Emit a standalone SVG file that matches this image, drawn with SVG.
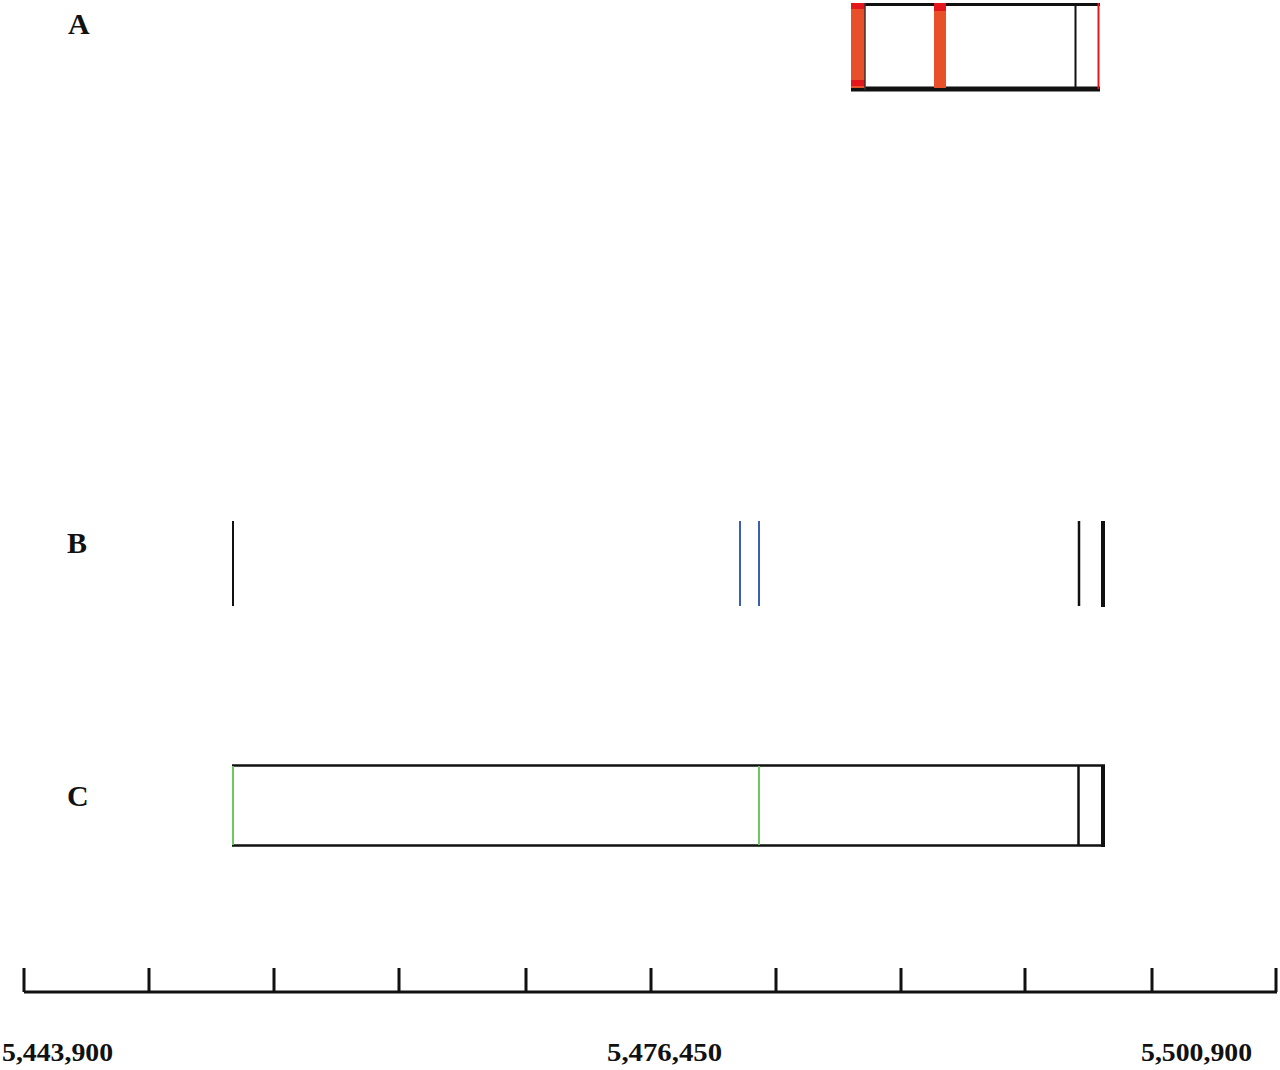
<svg xmlns="http://www.w3.org/2000/svg" width="1280" height="1070" viewBox="0 0 1280 1070">
<style>
.lbl{font-family:"Liberation Serif","Times New Roman",serif;font-size:30px;font-weight:bold;fill:#111}
.num{font-family:"Liberation Serif","Times New Roman",serif;font-size:25px;font-weight:bold;fill:#111}
.ax{stroke:#111;stroke-width:3;fill:none}
</style>
<rect width="1280" height="1070" fill="#fff"/>
<g id="label-A"><text class="lbl" x="68" y="34">A</text></g>
<g id="label-B"><text class="lbl" x="67" y="553">B</text></g>
<g id="label-C"><text class="lbl" x="67" y="806">C</text></g>
<g id="track-A">
  <line x1="851" y1="4.5" x2="1100" y2="4.5" stroke="#111" stroke-width="3"/>
  <line x1="851" y1="89" x2="1100" y2="89" stroke="#111" stroke-width="5"/>
  <rect x="851" y="3" width="14" height="85" fill="#e8502a"/>
  <rect x="851" y="3" width="14" height="6" fill="#e3161b"/>
  <rect x="851" y="80" width="14" height="6" fill="#e3161b"/>
  <line x1="865" y1="3" x2="865" y2="90" stroke="#333" stroke-width="1.5"/>
  <rect x="934" y="3" width="12" height="85" fill="#e8502a"/>
  <rect x="934" y="3" width="12" height="8" fill="#e3161b"/>
  <line x1="1075.5" y1="3" x2="1075.5" y2="91" stroke="#111" stroke-width="2"/>
  <line x1="1098.5" y1="3" x2="1098.5" y2="89" stroke="#e3161b" stroke-width="2"/>
</g>
<g id="track-B">
  <line x1="233" y1="521" x2="233" y2="606" stroke="#111" stroke-width="2"/>
  <line x1="740" y1="521" x2="740" y2="606" stroke="#3a5fb8" stroke-width="2"/>
  <line x1="759" y1="521" x2="759" y2="606" stroke="#3a5fb8" stroke-width="2"/>
  <line x1="1079" y1="521" x2="1079" y2="606" stroke="#111" stroke-width="2.5"/>
  <line x1="1103" y1="521" x2="1103" y2="607" stroke="#111" stroke-width="4"/>
</g>
<g id="track-C">
  <line x1="232" y1="765.5" x2="1105" y2="765.5" stroke="#111" stroke-width="2.5"/>
  <line x1="232" y1="845.5" x2="1105" y2="845.5" stroke="#111" stroke-width="2.5"/>
  <line x1="233" y1="766" x2="233" y2="845" stroke="#6cc860" stroke-width="2"/>
  <line x1="759" y1="766" x2="759" y2="845" stroke="#6cc860" stroke-width="2"/>
  <line x1="1078.5" y1="765" x2="1078.5" y2="846" stroke="#111" stroke-width="2.5"/>
  <line x1="1103" y1="765" x2="1103" y2="847" stroke="#111" stroke-width="4"/>
</g>
<g id="axis">
  <line class="ax" x1="24" y1="992" x2="1277" y2="992"/>
  <path class="ax" d="M24 968V992M149 968V992M274 968V992M399 968V992M526 968V992M651 968V992M776 968V992M901 968V992M1025 968V992M1152 968V992M1276 968V992"/>
  <text class="num" x="2" y="1061" textLength="111" lengthAdjust="spacingAndGlyphs">5,443,900</text>
  <text class="num" x="607" y="1061" textLength="115" lengthAdjust="spacingAndGlyphs">5,476,450</text>
  <text class="num" x="1141" y="1061" textLength="111" lengthAdjust="spacingAndGlyphs">5,500,900</text>
</g>
</svg>
